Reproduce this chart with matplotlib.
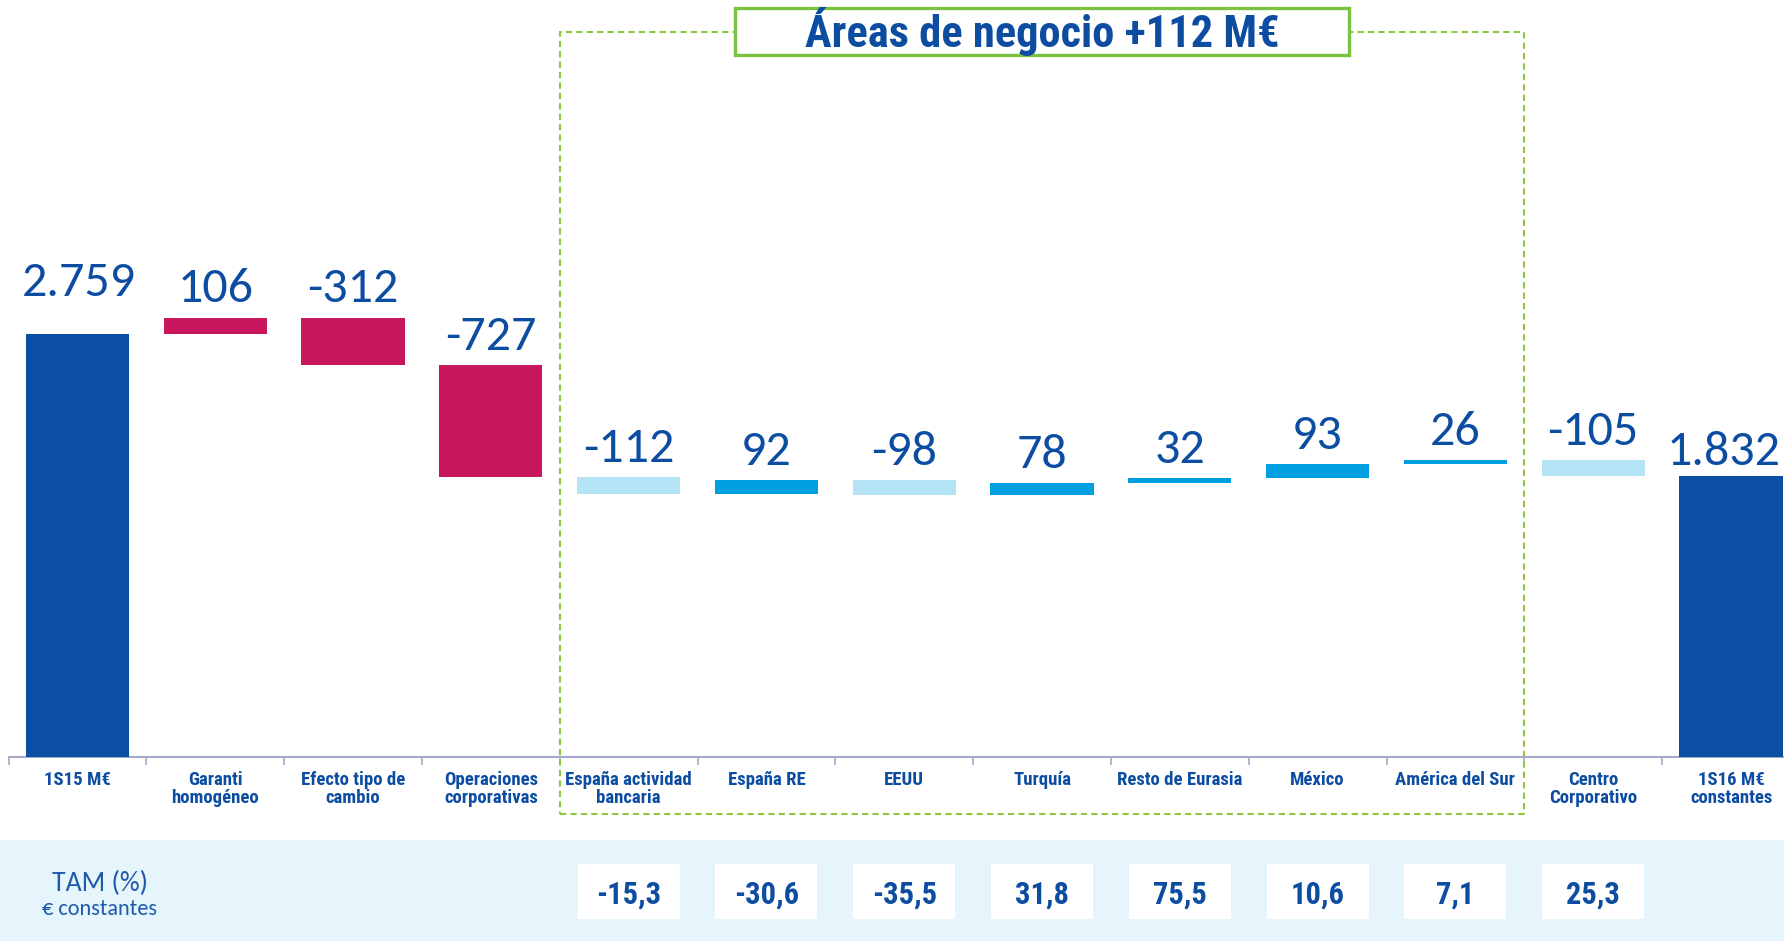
import numpy as np
import matplotlib
matplotlib.use("Agg")
import matplotlib.pyplot as plt
import matplotlib.patches as mpl_patches
import matplotlib.transforms as mtransforms

# waterfall: 1S15 -> 1S16 (M€ constantes)
categories = ["1S15 M€", "Garanti\nhomogéneo", "Efecto tipo de\ncambio",
              "Operaciones\ncorporativas", "España actividad\nbancaria",
              "España RE", "EEUU", "Turquía", "Resto de Eurasia", "México",
              "América del Sur", "Centro\nCorporativo", "1S16 M€\nconstantes"]
start_total = 2759
deltas = [106, -312, -727, -112, 92, -98, 78, 32, 93, 26, -105]
# group of each delta bar: "ajuste" (perímetro / divisa) or "area" (áreas de negocio)
delta_groups = ["ajuste", "ajuste", "ajuste", "area", "area", "area", "area",
                "area", "area", "area", "area"]

# TAM (%) at constant euros for business areas and Centro Corporativo
tam_idx = [4, 5, 6, 7, 8, 9, 10, 11]
tam_values = [-15.3, -30.6, -35.5, 31.8, 75.5, 10.6, 7.1, 25.3]

title_text = "Áreas de negocio +112 M€"

DARK = "#0A4FA3"
PINK = "#C8175C"
LIGHT = "#B6E4F7"
MID = "#009FE0"
TEXT = "#0C4DA2"
GREEN = "#8DC63F"
BAND = "#E6F4FC"

NUM_FONT = ["Carlito", "DejaVu Sans"]
BOLD_FONT = ["Roboto Condensed", "DejaVu Sans"]
plt.rcParams["font.family"] = NUM_FONT

W, H = 1784, 941
fig = plt.figure(figsize=(W / 100, H / 100), dpi=100)
base_px = 757
cat_px = 137.8  # width of one category slot, in pixels
ax = fig.add_axes([8.5 / W, (H - base_px) / H, len(categories) * cat_px / W,
                   base_px / H])
ax.set_xlim(-0.5, len(categories) - 0.5)
ax.set_ylim(0, base_px / 0.1534)


def fmt_es(v):
    return f"{v:,}".replace(",", ".")


# running totals
cum = [start_total]
for d in deltas:
    cum.append(cum[-1] + d)
end_total = cum[-1]

bar_w = 0.75
x = np.arange(len(categories))

# totals
ax.bar([0, len(categories) - 1], [start_total, end_total], width=bar_w,
       color=DARK, zorder=3)

# deltas
for i, d in enumerate(deltas):
    if delta_groups[i] == "ajuste":
        col = PINK
    else:
        col = MID if d > 0 else LIGHT
    ax.bar(i + 1, d, bottom=cum[i], width=bar_w, color=col, zorder=3)

# value labels
label_kw = dict(ha="center", va="baseline", fontsize=36, color=TEXT,
                textcoords="offset points", zorder=4)
ax.annotate(fmt_es(start_total), (0, start_total), xytext=(1, 27), **label_kw)
for i, d in enumerate(deltas):
    top = max(cum[i], cum[i] + d)
    ax.annotate(str(d), (i + 1, top), xytext=(0, 11), **label_kw)
ax.annotate(fmt_es(end_total), (len(categories) - 1, end_total),
            xytext=(-5, 8), **label_kw)

# axis styling
for s in ["top", "left", "right"]:
    ax.spines[s].set_visible(False)
ax.spines["bottom"].set_color("#A3AACB")
ax.spines["bottom"].set_linewidth(1.5)
ax.set_yticks([])
ax.set_xticks(x)
ax.set_xticklabels(categories, fontsize=13.5, fontweight="bold", color=TEXT,
                   linespacing=1.0, va="top", family=BOLD_FONT)
ax.tick_params(axis="x", which="major", length=0, pad=10)
ax.set_xticks(np.arange(-0.5, len(categories) - 0.5, 1), minor=True)
ax.tick_params(axis="x", which="minor", length=6, width=1.2, color="#A3AACB",
               direction="out")

# dashed frame around business areas
blend = mtransforms.blended_transform_factory(ax.transData, fig.transFigure)
y_top = 1 - 32 / H
y_bot = 1 - 814 / H
frame = mpl_patches.Rectangle((3.5, y_bot), 7, y_top - y_bot, transform=blend,
                              fill=False, edgecolor=GREEN, lw=1.5,
                              linestyle=(0, (3, 2)), clip_on=False, zorder=2)
ax.add_patch(frame)

# title box over the frame
tb_w = 4.45
tb_bot = 1 - 55 / H
tb_top = 1 - 8 / H
title_box = mpl_patches.Rectangle((7 - tb_w / 2, tb_bot), tb_w, tb_top - tb_bot,
                                  transform=blend, facecolor="white",
                                  edgecolor="#7CC242", lw=2.4, clip_on=False,
                                  zorder=5)
ax.add_patch(title_box)
ax.text(7, (tb_bot + tb_top) / 2, title_text, transform=blend, ha="center",
        va="center", fontsize=32, fontweight="bold", color=TEXT, zorder=6,
        family=BOLD_FONT)

# bottom band with TAM
band = mpl_patches.Rectangle((0, 0), 1, 101 / H, transform=fig.transFigure,
                             facecolor=BAND, edgecolor="none", zorder=-1)
fig.patches.append(band)
fig.text(100 / W, 1 - 883 / H, "TAM (%)", ha="center", va="center",
         fontsize=20, color="#1F5BAA")
fig.text(100 / W, 1 - 909 / H, "€ constantes", ha="center", va="center",
         fontsize=16, color="#1F5BAA")

box_w = 0.74
bx_bot = 1 - 919 / H
bx_top = 1 - 864 / H
for i, v in zip(tam_idx, tam_values):
    r = mpl_patches.Rectangle((i - box_w / 2, bx_bot), box_w, bx_top - bx_bot,
                              transform=blend, facecolor="white",
                              edgecolor="none", clip_on=False, zorder=3)
    ax.add_patch(r)
    ax.text(i, 1 - 895 / H, f"{v:.1f}".replace(".", ","),
            transform=blend, ha="center", va="center", fontsize=22,
            fontweight="bold", color=TEXT, zorder=4, family=BOLD_FONT)

fig.savefig("out.png", dpi=100)
